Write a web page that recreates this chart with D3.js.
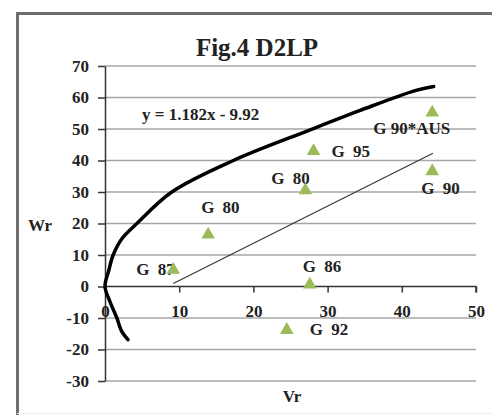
<!DOCTYPE html>
<html><head><meta charset="utf-8">
<script src="https://cdn.jsdelivr.net/npm/d3@7"></script>
<style>body{margin:0;background:#fff}svg{display:block}text{font-family:"Liberation Serif","Times New Roman",serif;font-weight:bold;fill:#222}</style>
</head><body><svg id="c" width="492" height="415"></svg>
<script>
const pointLabels = ["G 90*AUS","G 95","G 80","G 90","G 80","G 87","G 86","G 92"];
const vrValues = [44.1, 28.1, 27.0, 44.1, 13.9, 9.2, 27.6, 24.5];
const wrValues = [55.2, 43.0, 30.5, 36.6, 16.5, 5.3, 0.6, -13.8];
const labelOffsets = [[-59,16],[18,0],[-34,-12],[-11,17],[-7,-27],[-37,0],[-7,-18],[23,0]];
const curveVr = [3.1, 2.2, 1.6, 0.7, 0.0, 0.5, 1.1, 2.25, 4.3, 9.0, 17.3, 27.4, 34.4, 41.8, 44.3];
const curveWr = [-16.9, -14, -10, -5, 0, 5, 10, 15.1, 20, 30, 40, 49.5, 55.9, 62.2, 63.5];
const regVr = [9.2, 44.2];
const regWr = [0.95, 42.3];
const xTicks = [0,10,20,30,40,50];
const yTicks = [-30,-20,-10,0,10,20,30,40,50,60,70];
const title = "Fig.4 D2LP", equation = "y = 1.182x - 9.92";

const svg = d3.select("#c");
const x = d3.scaleLinear().domain([0,50]).range([105,476]);
const y = d3.scaleLinear().domain([-30,70]).range([381,66]);

// frame
svg.append("rect").attr("x",17.5).attr("y",13.5).attr("width",600).attr("height",600)
  .attr("fill","none").attr("stroke","#6e6e6e").attr("stroke-width",3);
svg.append("line").attr("x1",17).attr("x2",492).attr("y1",413.5).attr("y2",413.5).attr("stroke","#eee");

svg.append("text").attr("x",257).attr("y",47).attr("text-anchor","middle")
  .attr("dominant-baseline","central").style("font-size","25px").text(title);

// gridlines
svg.append("g").selectAll("line").data(yTicks.filter(d=>d!==0)).join("line")
  .attr("x1",x(0)).attr("x2",x(50)).attr("y1",d=>y(d)).attr("y2",d=>y(d))
  .attr("stroke","#a6a6a6").attr("stroke-width",1.5);

const fmt = d => String(d);
// y axis
const ya = svg.append("g").attr("transform",`translate(${x(0)},0)`)
  .call(d3.axisLeft(y).tickValues(yTicks).tickFormat(fmt).tickSize(7).tickPadding(9).tickSizeOuter(0));
// x axis
const xa = svg.append("g").attr("transform",`translate(0,${y(0)})`)
  .call(d3.axisBottom(x).tickValues(xTicks).tickFormat(fmt).tickSize(6).tickPadding(12).tickSizeOuter(0));
[ya,xa].forEach(a=>{
  a.select(".domain").attr("stroke","#333").attr("stroke-width",1.5);
  a.selectAll(".tick line").attr("stroke","#333").attr("stroke-width",1.5);
  a.selectAll("text").style("font-size","17px").style("font-family","Liberation Serif, serif").style("font-weight","bold").attr("fill","#222");
});
xa.select(".domain").attr("d",`M${x(0)},0H${x(50)}V6`);

svg.append("text").attr("x",40).attr("y",225).attr("text-anchor","middle").attr("dominant-baseline","central").style("font-size","17px").text("Wr");
svg.append("text").attr("x",292).attr("y",396).attr("text-anchor","middle").attr("dominant-baseline","central").style("font-size","17px").text("Vr");

// regression line
const regPts = regVr.map((v,i)=>[v,regWr[i]]);
svg.append("path").attr("d",d3.line().x(d=>x(d[0])).y(d=>y(d[1]))(regPts))
  .attr("stroke","#333").attr("stroke-width",1.1).attr("fill","none");

// limiting parabola
const cPts = curveVr.map((v,i)=>[v,curveWr[i]]);
svg.append("path").attr("d",d3.line().curve(d3.curveCatmullRom.alpha(0.5)).x(d=>x(d[0])).y(d=>y(d[1]))(cPts))
  .attr("stroke","#000").attr("stroke-width",3.5).attr("fill","none").attr("stroke-linecap","round");

svg.append("text").attr("x",142).attr("y",114).attr("dominant-baseline","central").style("font-size","17px").text(equation);

// labels
svg.append("g").selectAll("text").data(pointLabels).join("text")
  .attr("x",(d,i)=>x(vrValues[i])+labelOffsets[i][0])
  .attr("y",(d,i)=>y(wrValues[i])+labelOffsets[i][1])
  .attr("dominant-baseline","central").style("font-size","17px")
  .style("word-spacing",(d,i)=>i===0?"0px":"4px").text(d=>d);

// points
svg.append("g").selectAll("path").data(vrValues).join("path")
  .attr("d",d3.symbol(d3.symbolTriangle,80))
  .attr("transform",(d,i)=>`translate(${x(d)},${y(wrValues[i])})`)
  .attr("fill","#9bbb59");
</script></body></html>
